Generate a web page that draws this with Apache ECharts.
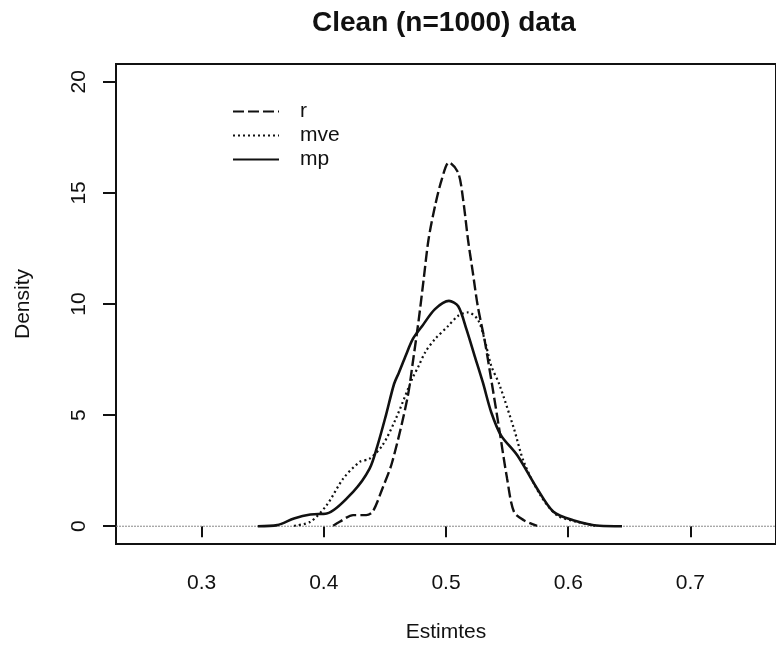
<!DOCTYPE html>
<html>
<head>
<meta charset="utf-8">
<script src="https://cdn.jsdelivr.net/npm/echarts@6/dist/echarts.min.js"></script>
<style>html,body{margin:0;padding:0;background:#fff}#c{width:776px;height:648px}</style>
</head>
<body>
<div id="c"></div>
<script>
const titleText = 'Clean (n=1000) data';
const xName = 'Estimtes';
const yName = 'Density';
const xTicks = [0.3, 0.4, 0.5, 0.6, 0.7];
const yTicks = [0, 5, 10, 15, 20];
const seriesNames = ['r', 'mve', 'mp'];

const rX = [0.4077,0.413,0.424,0.4347,0.44,0.448,0.456,0.4683,0.4736,0.4777,0.4817,0.4857,0.491,0.4965,0.5024,0.51,0.514,0.518,0.522,0.526,0.5315,0.537,0.5435,0.55,0.5556,0.5637,0.5745];
const rY = [0.02,0.2,0.5,0.5,0.65,1.7,2.89,5.73,7.67,9.3,11.1,12.9,14.4,15.6,16.37,15.9,14.7,12.9,11.4,9.9,8.4,6.6,4.39,2.14,0.65,0.27,0.02];

const mveX = [0.3756,0.389,0.4024,0.4159,0.4293,0.4375,0.448,0.4589,0.4723,0.4777,0.483,0.491,0.5016,0.51,0.518,0.526,0.5315,0.537,0.5435,0.5556,0.5637,0.5772,0.5906,0.6067,0.6228];
const mveY = [0.02,0.2,0.95,2.14,2.89,3.04,3.64,4.83,6.63,7.22,7.83,8.42,9.0,9.47,9.62,9.3,8.42,7.22,6.4,4.39,2.89,1.4,0.5,0.2,0.02];

const mpX = [0.346,0.362,0.3756,0.389,0.4024,0.424,0.4375,0.444,0.4508,0.4575,0.4616,0.467,0.4728,0.4804,0.491,0.5024,0.51,0.5167,0.5234,0.5301,0.537,0.545,0.5583,0.5745,0.5879,0.604,0.6256,0.644];
const mpY = [0,0.05,0.35,0.53,0.57,1.55,2.59,3.64,4.98,6.4,6.93,7.67,8.42,9.0,9.77,10.14,9.9,8.87,7.67,6.48,5.13,4.09,3.19,1.7,0.65,0.27,0.02,0];

const zeroX = [0.23, 0.77];
const zeroY = [0, 0];

const zip = (xs, ys) => xs.map((x, i) => [x, ys[i]]);
const FONT = 'Liberation Sans, Arial, Helvetica, sans-serif';

const chart = echarts.init(document.getElementById('c'), null, {renderer: 'canvas'});
chart.setOption({
  animation: false,
  backgroundColor: '#fff',
  title: {
    text: titleText, left: 307, top: 4,
    textStyle: {fontFamily: FONT, fontSize: 28, fontWeight: 'bold', color: '#111'}
  },
  legend: {
    orient: 'vertical', left: 227, top: 96,
    data: seriesNames,
    itemWidth: 46, itemHeight: 14, itemGap: 3,
    itemStyle: {opacity: 0},
    textStyle: {fontFamily: FONT, fontSize: 21, color: '#111', padding: [0,0,0,16]},
    selectedMode: false
  },
  grid: {
    left: 116, right: -10, top: 64, bottom: 102,
    show: true, borderColor: '#111', borderWidth: 2, backgroundColor: 'transparent'
  },
  xAxis: {
    type: 'value', min: 0.23, max: 0.77,
    name: xName, nameLocation: 'middle', nameGap: 78,
    nameTextStyle: {fontFamily: FONT, fontSize: 21, color: '#111'},
    axisLine: {show: false},
    splitLine: {show: false},
    axisTick: {show: true, customValues: xTicks, length: 11, inside: false, lineStyle: {color: '#111', width: 2}},
    axisLabel: {customValues: xTicks, margin: 29, fontFamily: FONT, fontSize: 21, color: '#111', formatter: v => v.toFixed(1)}
  },
  yAxis: {
    type: 'value', min: -0.8, max: 20.8,
    name: yName, nameLocation: 'middle', nameGap: 82, nameRotate: 90,
    nameTextStyle: {fontFamily: FONT, fontSize: 21, color: '#111'},
    axisLine: {show: false},
    splitLine: {show: false},
    axisTick: {show: true, customValues: yTicks, length: 13, inside: false, lineStyle: {color: '#111', width: 2}},
    axisLabel: {customValues: yTicks, margin: 26, rotate: 90, fontFamily: FONT, fontSize: 21, color: '#111'}
  },
  series: [
    {name: 'zero', type: 'line', data: zip(zeroX, zeroY), symbol: 'none', silent: true,
     lineStyle: {color: '#888', width: 1, type: [2, 1]}, z: 1},
    {name: 'r', type: 'line', data: zip(rX, rY), symbol: 'none', smooth: 0.3, color: '#111',
     lineStyle: {color: '#111', width: 2.4, type: [11, 4]}},
    {name: 'mve', type: 'line', data: zip(mveX, mveY), symbol: 'none', smooth: 0.3, color: '#111',
     lineStyle: {color: '#111', width: 2.2, type: [2, 3]}},
    {name: 'mp', type: 'line', data: zip(mpX, mpY), symbol: 'none', smooth: 0.3, color: '#111',
     lineStyle: {color: '#111', width: 2.6, type: 'solid'}}
  ]
});
</script>
</body>
</html>
